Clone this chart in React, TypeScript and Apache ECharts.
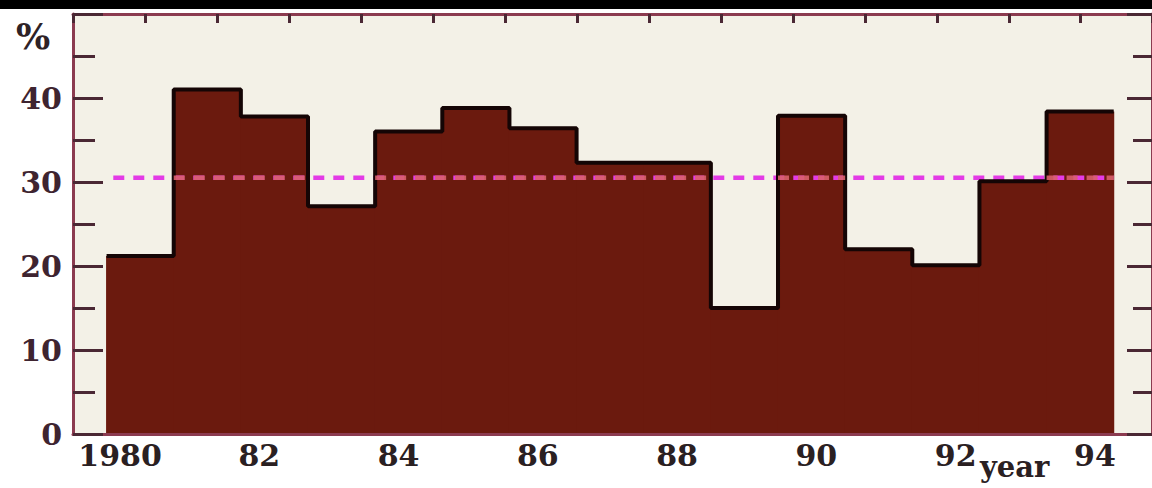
import React, { useEffect, useRef } from "react";
import * as echarts from "echarts";

const years = [1980, 1981, 1982, 1983, 1984, 1985, 1986, 1987, 1988, 1989, 1990, 1991, 1992, 1993, 1994];
const percent = [21.2, 41.0, 37.8, 27.1, 36.0, 38.8, 36.4, 32.3, 32.3, 15.0, 37.9, 22.0, 20.1, 30.1, 38.4];
const meanValue = 30.5;
const yTickValues = [0, 10, 20, 30, 40, 50];
const xLabelYears = [1980, 1982, 1984, 1986, 1988, 1990, 1992, 1994];

const FONT = "DejaVu Serif";
const BAR_FILL = "#6b1a0e";
const FRAME = "#8b3b50";
const TICK = "#4a2834";

export default function App() {
  const ref = useRef<HTMLDivElement>(null);
  useEffect(() => {
    if (!ref.current) return;
    const chart = echarts.init(ref.current, undefined, { renderer: "svg" });

    const barData = years.map((y, i) => [y, percent[i]]);
    const stepData: (number[])[] = years.map((y, i) => [y - 0.5, percent[i]]);
    stepData.push([years[years.length - 1] + 0.5, percent[percent.length - 1]]);

    // segments of mean line lying over bars that are taller than the mean
    const overData: (number[] | null)[] = [];
    years.forEach((y, i) => {
      if (percent[i] > meanValue) {
        const prevAbove = i > 0 && percent[i - 1] > meanValue;
        if (!prevAbove) {
          if (overData.length) overData.push(null);
          overData.push([y - 0.5, meanValue]);
        }
        overData.push([y + 0.5, meanValue]);
      }
    });

    const option: any = {
      animation: false,
      backgroundColor: "#ffffff",
      grid: {
        left: 73,
        top: 14,
        right: 0,
        bottom: 54,
        show: true,
        backgroundColor: "#f3f1e7",
        borderWidth: 0,
      },
      xAxis: [
        {
          type: "value",
          position: "bottom",
          min: 1979,
          max: 1995.07,
          show: false,
        },
        {
          type: "value",
          position: "bottom",
          min: 1979.325,
          max: 1994.82,
          axisLine: { show: true, lineStyle: { color: FRAME, width: 3 } },
          axisTick: { show: false },
          splitLine: { show: false },
          axisLabel: {
            customValues: xLabelYears,
            formatter: (v: number) => (v === 1980 ? "1980" : String(v % 100)),
            fontFamily: FONT,
            fontSize: 30,
            fontWeight: "bold",
            color: "#2a2022",
            margin: 6,
          },
          z: 10,
        },
        {
          type: "value",
          position: "top",
          min: 0,
          max: 14.99,
          interval: 1,
          axisLine: { show: true, lineStyle: { color: FRAME, width: 3 } },
          axisTick: { show: true, inside: true, length: 9, lineStyle: { color: TICK, width: 3 } },
          axisLabel: { show: false },
          splitLine: { show: false },
          z: 10,
        },
      ],
      yAxis: [
        {
          type: "value",
          position: "left",
          min: 0,
          max: 50,
          interval: 10,
          axisLine: { show: true, lineStyle: { color: FRAME, width: 3 } },
          axisTick: { show: true, inside: true, length: 30, lineStyle: { color: TICK, width: 3 } },
          minorTick: { show: true, splitNumber: 2, length: 22, lineStyle: { color: TICK, width: 3 } },
          splitLine: { show: false },
          axisLabel: {
            customValues: yTickValues,
            formatter: (v: number) => (v === 50 ? "" : String(v)),
            fontFamily: FONT,
            fontSize: 30,
            fontWeight: "bold",
            color: "#3e2430",
            margin: 11,
          },
          z: 10,
        },
        {
          type: "value",
          position: "right",
          min: 0,
          max: 50,
          interval: 10,
          axisLine: { show: true, lineStyle: { color: FRAME, width: 3 } },
          axisTick: { show: true, inside: true, length: 25, lineStyle: { color: TICK, width: 3 } },
          minorTick: { show: true, splitNumber: 2, length: 19, lineStyle: { color: TICK, width: 3 } },
          splitLine: { show: false },
          axisLabel: { show: false },
          z: 10,
        },
      ],
      series: [
        {
          type: "line",
          xAxisIndex: 0,
          yAxisIndex: 0,
          data: [
            [1979.6, meanValue],
            [1994.5, meanValue],
          ],
          symbol: "none",
          lineStyle: { color: "#e33be6", width: 4.5, type: [11, 9] },
          silent: true,
        },
        {
          type: "custom",
          xAxisIndex: 0,
          yAxisIndex: 0,
          data: barData,
          renderItem: (params: any, api: any) => {
            const x = api.value(0);
            const v = api.value(1);
            const p0 = api.coord([x - 0.5, v]);
            const p1 = api.coord([x + 0.5, 0]);
            return {
              type: "rect",
              shape: { x: p0[0] - 0.5, y: p0[1], width: p1[0] - p0[0] + 1, height: p1[1] - p0[1] },
              style: { fill: BAR_FILL },
            };
          },
          silent: true,
        },
        {
          type: "line",
          xAxisIndex: 0,
          yAxisIndex: 0,
          data: stepData,
          step: "end",
          symbol: "none",
          lineStyle: { color: "#140505", width: 4 },
          silent: true,
        },
        {
          type: "line",
          xAxisIndex: 0,
          yAxisIndex: 0,
          data: overData,
          connectNulls: false,
          symbol: "none",
          lineStyle: { color: "#d8606a", width: 4.5, type: [11, 9], opacity: 0.9 },
          silent: true,
        },
      ],
      graphic: [
        {
          type: "rect",
          left: 0,
          top: 0,
          shape: { width: 1152, height: 9 },
          style: { fill: "#000000" },
          z: 100,
        },
        {
          type: "text",
          left: 16,
          top: 18,
          style: {
            text: "%",
            fontFamily: FONT,
            fontSize: 36,
            fontWeight: "bold",
            fill: "#2e2226",
          },
          z: 100,
        },
        {
          type: "text",
          left: 980,
          top: 452,
          style: {
            text: "year",
            fontFamily: FONT,
            fontSize: 29,
            lineHeight: 30,
            fontWeight: "bold",
            fill: "#2a2022",
          },
          z: 100,
        },
      ],
    };

    chart.setOption(option);
    return () => chart.dispose();
  }, []);

  return (
    <div
      ref={ref}
      style={{ position: "fixed", left: 0, top: 0, width: 1152, height: 488 }}
    />
  );
}
